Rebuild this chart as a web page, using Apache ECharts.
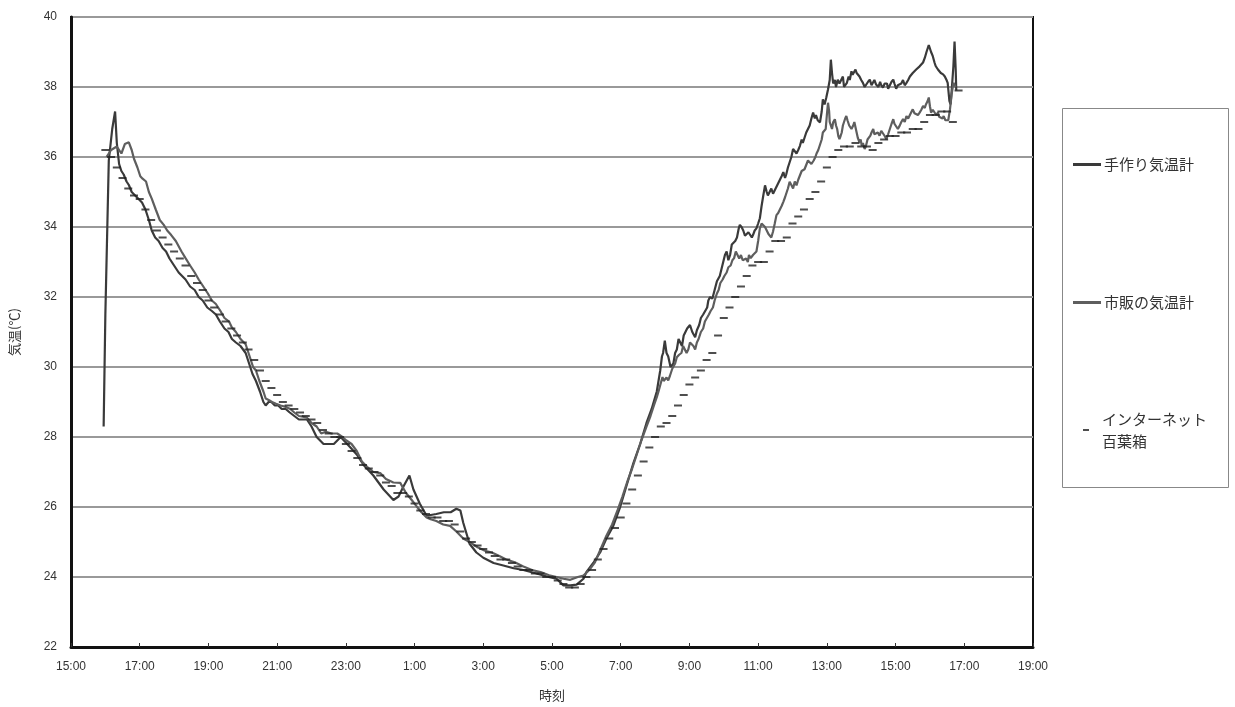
<!DOCTYPE html>
<html>
<head>
<meta charset="utf-8">
<script src="https://cdn.jsdelivr.net/npm/echarts@6/dist/echarts.min.js"></script>
<style>
html,body{margin:0;padding:0;background:#fff;}
#chart{width:1235px;height:707px;}
</style>
</head>
<body>
<div id="chart"></div>
<script>
// x values: minutes elapsed since 15:00 (day 1)
const xTickLabels = ['15:00','17:00','19:00','21:00','23:00','1:00','3:00','5:00','7:00','9:00','11:00','13:00','15:00','17:00','19:00'];
const seriesNames = ['手作り気温計', '市販の気温計', 'インターネット百葉箱'];

const timeA = [57,60,66,72,77,80,84,88,92,97,101,106,112,118,124,130,136,141,147,153,160,166,172,180,188,194,200,208,216,223,230,238,246,253,260,268,275,281,288,296,305,311,317,323,330,336,340,345,350,356,362,368,375,382,390,398,405,412,420,429,441,459,471,488,499,511,528,546,563,572,581,591,598,609,621,638,651,663,673,680,685,696,708,720,738,755,773,790,813,834,848,860,872,883,895,900,912,924,935,947,959,970,982,994,1005,1014,1023,
1029,1032,1034,1037,1040,1043,1047,1052,1055,1058,1061,1063,1067,1070,1072,1076,1081,1085,1090,1093,1097,1100,1104,1107,1111,1113,1116,1120,1124,1128,1133,1136,1139,1142,1145,1148,1151,1154,1156,1160,1163,1166,1168,1171,1174,1177,1180,1183,1186,1189,1191,1194,1197,1200,1203,1206,1209,1212,1215,1217,1220,1223,1226,1229,1232,1235,1238,1241,1244,1247,1249,1252,1255,1258,1261,1264,1267,1270,1273,1276,1278,1281,1284,1287,1290,1293,1296,1299,1301,1304,1308,1311,1313,1316,1319,1322,1325,1327,1329,1331,1334,1336,1339,1342,1345,1348,1350,1353,1355,1358,1360,1363,1365,1367,1370,1372,1375,1377,1380,1383,1386,1389,1392,1395,1398,1401,1403,1406,1410,1413,1415,1418,1421,1425,1427,1430,1433,1436,1438,1441,1444,1447,1450,1453,1456,1459,1462,1465,1468,1470,1473,1476,1479,1482,1485,1488,1491,1494,1498,1500,1502,1505,1508,1510,1512,1514,1517,1519,1523,1526,1529,1531,1534,1536,1538,1541,1543,1545,1546];
const tempA = [28.3,31.5,35.9,36.8,37.3,36.4,35.8,35.6,35.5,35.3,35.2,35.0,34.9,34.8,34.7,34.5,34.2,33.9,33.7,33.6,33.4,33.3,33.1,32.9,32.7,32.6,32.5,32.3,32.2,32.0,31.9,31.7,31.6,31.5,31.3,31.1,31.0,30.8,30.7,30.6,30.4,30.1,29.8,29.6,29.3,29.0,28.9,29.0,29.0,28.9,28.9,28.8,28.8,28.7,28.6,28.5,28.5,28.5,28.3,28.0,27.8,27.8,28.0,27.7,27.5,27.2,26.9,26.5,26.2,26.3,26.6,26.9,26.5,26.1,25.75,25.8,25.85,25.85,25.95,25.9,25.55,24.95,24.7,24.55,24.4,24.33,24.25,24.2,24.1,24.0,23.95,23.76,23.76,23.78,23.95,24.14,24.4,24.7,25.1,25.46,26.0,26.6,27.25,27.8,28.4,28.8,29.3,
29.9,30.3,30.4,30.75,30.4,30.3,30.0,30.1,30.4,30.5,30.8,30.75,30.6,30.9,30.94,31.1,31.2,31.0,30.85,31.05,31.2,31.4,31.5,31.45,31.7,31.9,32.0,31.95,32.2,32.45,32.6,32.8,33.0,33.2,33.3,33.05,33.2,33.5,33.5,33.6,33.7,33.95,34.06,34.0,33.9,33.75,33.7,33.85,33.8,33.7,33.77,33.9,33.96,34.1,34.25,34.6,34.9,35.19,35.0,34.9,35.0,35.1,34.95,35.05,35.1,35.25,35.3,35.45,35.57,35.4,35.5,35.7,35.85,36.0,36.23,36.2,36.1,36.2,36.32,36.5,36.4,36.55,36.7,36.75,36.9,37.1,37.27,37.1,37.2,37.05,36.99,37.3,37.65,37.5,37.7,37.93,38.2,38.78,38.4,38.1,38.2,38.0,38.21,38.1,38.15,38.3,38.0,38.05,38.12,38.3,38.2,38.45,38.35,38.3,38.5,38.4,38.35,38.3,38.2,38.12,38.0,38.0,38.15,38.21,38.05,38.1,38.2,38.07,38.0,38.15,38.05,37.98,38.1,38.1,37.95,38.05,38.15,38.21,38.1,37.95,38.05,38.07,38.1,38.2,38.05,38.12,38.2,38.3,38.25,38.4,38.35,38.5,38.45,38.59,38.6,38.7,38.83,39.0,39.2,39.1,39.0,38.88,38.7,38.6,38.55,38.5,38.45,38.4,38.36,38.3,38.2,38.12,37.6,37.5,37.9,38.6,39.3,38.5,37.9];

const timeB = [62,70,80,88,94,101,106,110,116,121,125,131,136,141,148,155,162,168,175,183,193,200,208,216,223,231,239,246,253,261,268,276,281,288,296,305,312,318,323,329,336,340,346,351,358,366,375,383,390,398,405,412,420,429,437,445,455,465,474,481,490,499,508,517,528,540,550,563,575,585,595,603,612,621,628,638,650,662,673,685,697,710,723,735,748,760,775,790,805,820,835,848,860,872,885,895,905,915,925,935,945,955,963,971,980,988,996,1005,1012,1018,
1023,1026,1028,1031,1033,1035,1037,1040,1043,1046,1048,1050,1052,1055,1058,1062,1066,1069,1072,1075,1078,1081,1084,1087,1090,1093,1096,1100,1104,1107,1110,1114,1117,1121,1124,1128,1131,1134,1138,1141,1145,1148,1152,1155,1158,1161,1164,1167,1170,1173,1176,1179,1182,1184,1187,1189,1191,1194,1197,1200,1203,1206,1209,1212,1215,1218,1220,1223,1226,1229,1232,1235,1238,1241,1244,1247,1250,1252,1255,1258,1261,1264,1267,1270,1273,1276,1278,1281,1284,1287,1290,1293,1297,1300,1302,1305,1308,1311,1313,1316,1318,1320,1322,1324,1325,1327,1329,1331,1334,1336,1338,1340,1342,1344,1346,1348,1350,1352,1354,1356,1359,1361,1363,1366,1368,1370,1372,1374,1377,1379,1381,1383,1386,1388,1391,1393,1396,1398,1401,1403,1406,1409,1412,1415,1418,1421,1424,1427,1430,1433,1436,1438,1441,1444,1447,1450,1453,1456,1459,1462,1465,1468,1470,1473,1476,1479,1482,1485,1488,1491,1493,1496,1498,1500,1502,1505,1508,1511,1514,1516,1519,1522,1524,1527,1529,1532,1535,1538,1541,1545];
const tempB = [36.0,36.2,36.3,36.1,36.37,36.42,36.2,35.95,35.7,35.45,35.38,35.3,35.0,34.81,34.5,34.2,34.06,33.9,33.77,33.6,33.3,33.11,32.9,32.7,32.5,32.3,32.1,31.9,31.8,31.6,31.4,31.3,31.13,31.0,30.8,30.65,30.3,30.0,29.9,29.6,29.3,29.1,29.05,29.0,28.95,28.9,28.86,28.8,28.7,28.6,28.58,28.55,28.4,28.3,28.1,28.15,28.1,28.1,28.0,27.9,27.8,27.6,27.3,27.15,27.0,26.97,26.8,26.7,26.69,26.4,26.2,26.03,25.85,25.7,25.65,25.6,25.5,25.46,25.3,25.1,24.99,24.85,24.75,24.7,24.6,24.5,24.42,24.3,24.2,24.14,24.05,24.0,23.95,23.92,24.0,24.04,24.2,24.42,24.8,25.18,25.5,25.93,26.3,26.7,27.1,27.5,27.9,28.3,28.6,28.9,
29.14,29.3,29.35,29.6,29.71,29.6,29.62,29.7,29.62,29.75,29.7,29.95,29.9,30.1,30.28,30.35,30.4,30.6,30.56,30.4,30.5,30.7,30.65,30.6,30.5,30.7,30.8,31.0,31.1,31.3,31.3,31.5,31.6,31.7,31.9,32.1,32.2,32.4,32.5,32.6,32.7,32.85,32.9,33.05,33.11,33.3,33.3,33.1,33.2,33.05,33.02,33.1,33.0,33.2,33.11,33.15,33.2,33.25,33.3,33.6,33.96,34.1,34.15,34.0,33.9,33.8,33.77,33.7,33.87,34.1,34.34,34.4,34.5,34.6,34.72,34.85,34.9,35.1,35.29,35.2,35.1,35.3,35.19,35.35,35.4,35.6,35.57,35.65,35.7,35.9,35.85,35.8,35.9,36.0,36.1,36.2,36.23,36.5,36.7,36.75,36.8,37.2,37.55,37.3,37.0,36.99,36.8,36.99,37.08,36.9,36.8,36.6,36.51,36.6,36.7,36.9,37.0,37.1,37.17,37.05,36.9,36.95,36.8,36.9,37.0,36.85,36.7,36.55,36.42,36.5,36.32,36.4,36.23,36.3,36.5,36.45,36.61,36.7,36.8,36.65,36.6,36.7,36.61,36.75,36.7,36.6,36.51,36.65,36.8,36.95,37.08,36.95,36.9,36.8,36.89,37.0,37.08,37.0,37.17,37.1,37.2,37.3,37.36,37.25,37.3,37.2,37.27,37.35,37.46,37.4,37.5,37.6,37.7,37.45,37.27,37.35,37.3,37.2,37.27,37.15,37.2,37.1,37.17,37.05,37.0,37.05,37.36,37.8,38.12,38.0];

// Internet weather station: readings every 10 minutes starting at 16:00
const netStartMin = 60;
const netStepMin = 10;
const netTemps = [36.2,36.0,35.7,35.4,35.1,34.9,34.8,34.5,34.2,33.9,33.7,33.5,33.3,33.1,32.9,32.6,32.4,32.2,31.9,31.7,31.5,31.3,31.1,30.9,30.7,30.5,30.2,29.9,29.6,29.4,29.2,29.0,28.9,28.8,28.7,28.6,28.5,28.4,28.2,28.1,28.0,28.0,27.8,27.6,27.4,27.2,27.1,27.0,26.9,26.7,26.6,26.4,26.4,26.3,26.1,25.9,25.8,25.7,25.7,25.6,25.6,25.5,25.3,25.1,25.0,24.9,24.8,24.7,24.6,24.5,24.5,24.4,24.3,24.2,24.2,24.1,24.1,24.0,24.0,23.9,23.8,23.7,23.7,23.8,24.0,24.2,24.5,24.8,25.1,25.4,25.7,26.1,26.5,26.9,27.3,27.7,28.0,28.3,28.4,28.6,28.9,29.2,29.5,29.7,29.9,30.2,30.4,30.9,31.4,31.7,32.0,32.3,32.6,32.9,33.0,33.0,33.3,33.6,33.6,33.7,34.1,34.3,34.5,34.8,35.0,35.3,35.7,36.0,36.2,36.3,36.3,36.4,36.3,36.3,36.2,36.4,36.5,36.6,36.6,36.7,36.7,36.8,36.8,37.0,37.2,37.2,37.3,37.3,37.0,37.9];

const dataA = timeA.map((t, i) => [t, tempA[i]]);
const dataB = timeB.map((t, i) => [t, tempB[i]]);
const dataNet = netTemps.map((v, i) => [netStartMin + netStepMin * i, v]);

const numFont = '"Liberation Sans", Arial, sans-serif';
const jpFont = '"Noto Sans CJK JP", "Noto Sans", sans-serif';

const chart = echarts.init(document.getElementById('chart'), null, {renderer: 'canvas'});
chart.setOption({
  backgroundColor: '#ffffff',
  animation: false,
  grid: {
    left: 67, top: 17, right: 202, bottom: 55,
    show: true, borderColor: '#111', borderWidth: 2, backgroundColor: 'transparent'
  },
  xAxis: {
    type: 'value', min: 0, max: 1680, interval: 120,
    name: '時刻', nameLocation: 'middle', nameGap: 42,
    nameTextStyle: {fontFamily: jpFont, fontSize: 13, color: '#333'},
    axisLine: {show: true, onZero: false, lineStyle: {color: '#111', width: 3}},
    axisTick: {show: true, inside: true, length: 4, lineStyle: {color: '#333', width: 1}},
    axisLabel: {
      margin: 14, color: '#333', fontSize: 12, fontFamily: numFont,
      formatter: v => xTickLabels[Math.round(v / 120)]
    },
    splitLine: {show: false}
  },
  yAxis: {
    type: 'value', min: 22, max: 40, interval: 2,
    name: '気温(℃)', nameLocation: 'middle', nameGap: 50, nameRotate: 90,
    nameTextStyle: {fontFamily: jpFont, fontSize: 13, color: '#333'},
    axisLine: {show: true, lineStyle: {color: '#111', width: 3}},
    axisTick: {show: false},
    axisLabel: {margin: 14, color: '#333', fontSize: 12, fontFamily: numFont},
    splitLine: {show: true, lineStyle: {color: '#999', width: 2}}
  },
  graphic: [{
    type: 'rect', left: 1062, top: 108,
    shape: {width: 166, height: 379},
    style: {fill: '#fff', stroke: '#888', lineWidth: 1}, z: 0
  }],
  legend: [{
    orient: 'vertical', left: 1068, top: 152,
    itemWidth: 28, itemHeight: 3, itemGap: 123,
    icon: 'rect',
    data: [seriesNames[0], seriesNames[1]],
    textStyle: {fontFamily: jpFont, fontSize: 15, color: '#333', padding: [0, 0, 0, -2]},
    z: 5
  }, {
    orient: 'vertical', left: 1078, top: 403,
    itemWidth: 6, itemHeight: 2,
    icon: 'rect',
    data: [seriesNames[2]],
    formatter: name => 'インターネット\n百葉箱',
    textStyle: {fontFamily: jpFont, fontSize: 15, color: '#333', lineHeight: 22, padding: [0, 0, 0, 8]},
    z: 5
  }],
  series: [{
    name: seriesNames[0], type: 'line', data: dataA,
    showSymbol: false, symbol: 'none',
    lineStyle: {color: '#3a3a3a', width: 2.2},
    itemStyle: {color: '#3a3a3a'}, z: 3
  }, {
    name: seriesNames[1], type: 'line', data: dataB,
    showSymbol: false, symbol: 'none',
    lineStyle: {color: '#5e5e5e', width: 2.2},
    itemStyle: {color: '#5e5e5e'}, z: 3
  }, {
    name: seriesNames[2], type: 'scatter', data: dataNet,
    symbol: 'rect', symbolSize: [8, 2],
    itemStyle: {color: '#222'}, z: 4
  }]
});
</script>
</body>
</html>
